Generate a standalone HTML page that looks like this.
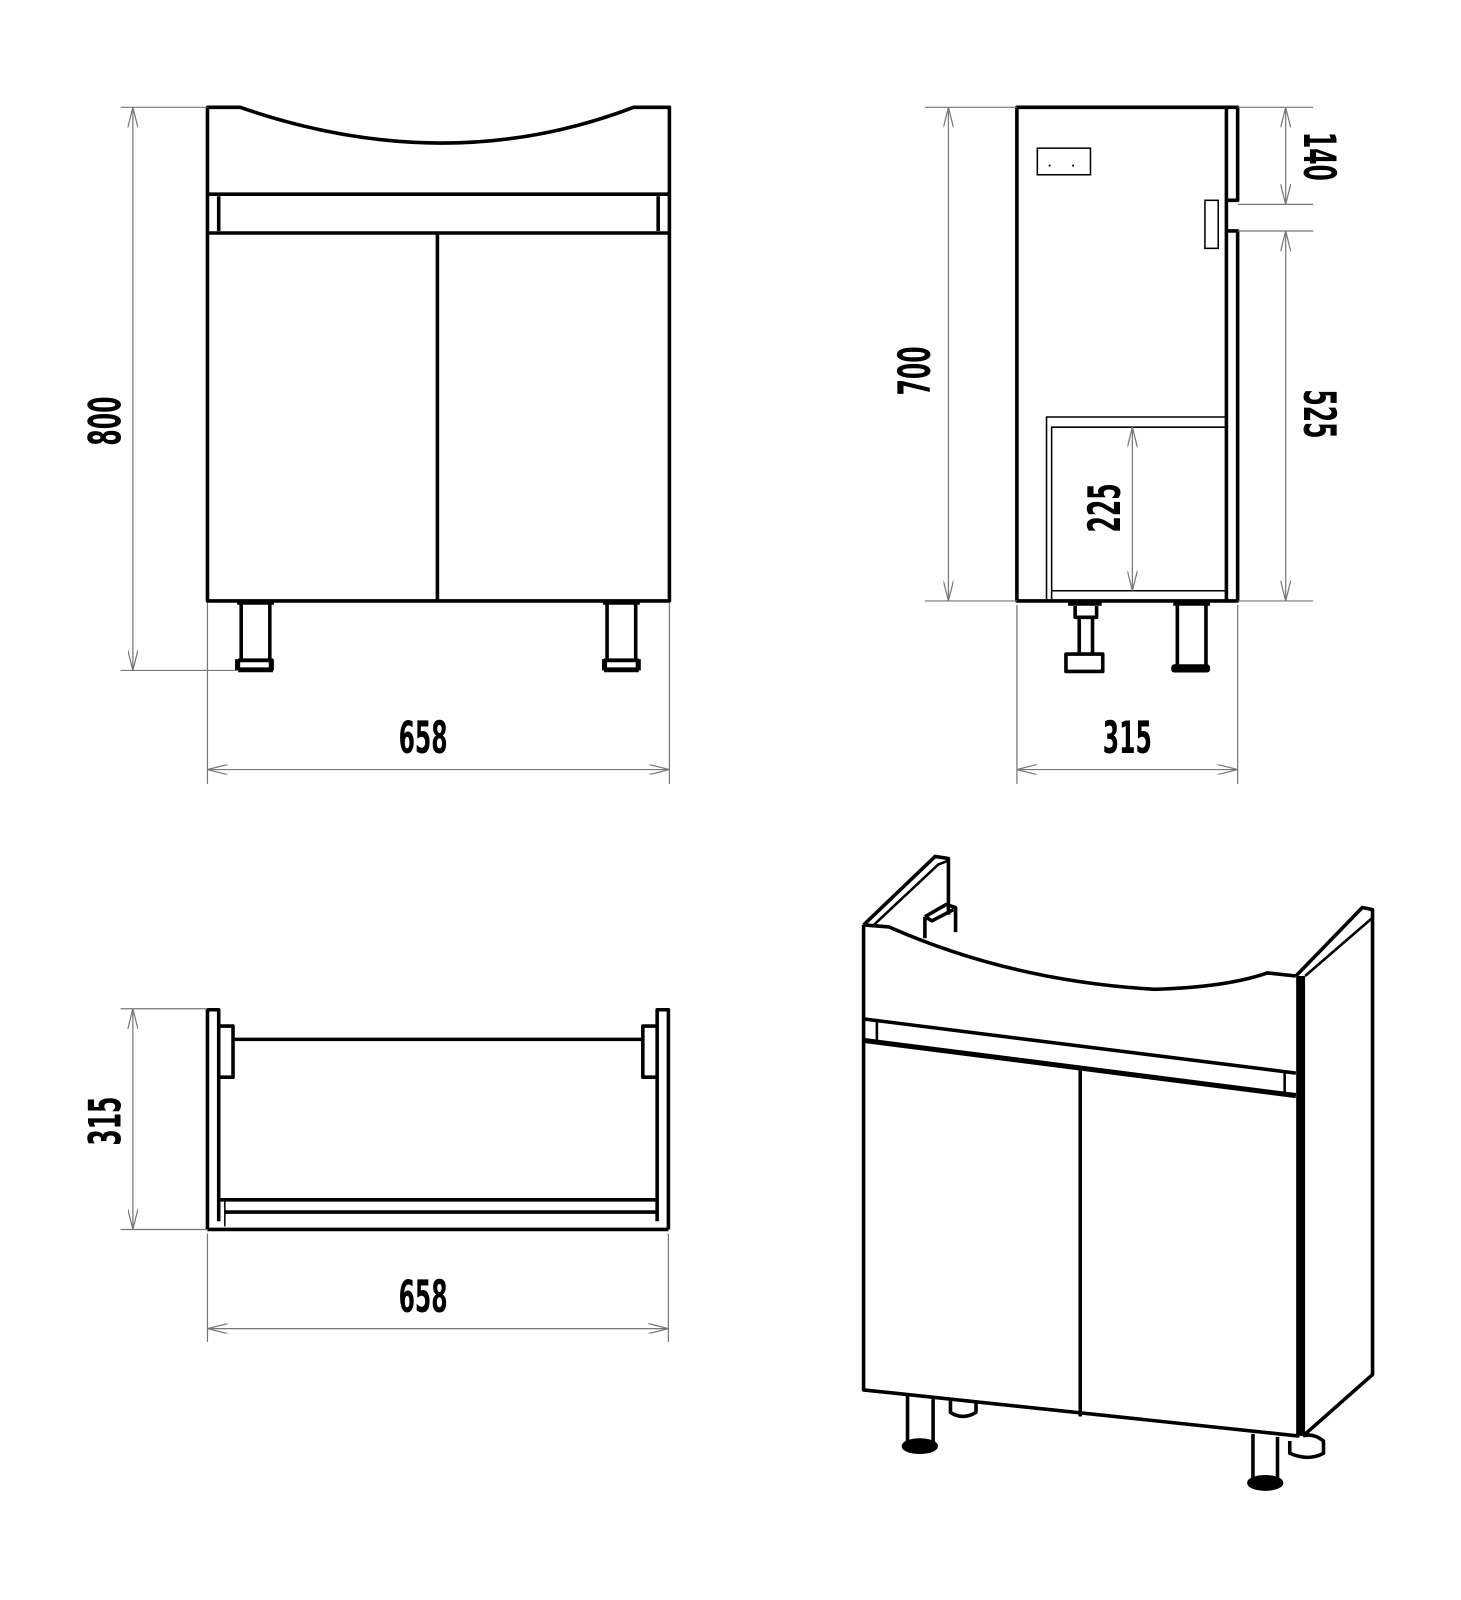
<!DOCTYPE html>
<html><head><meta charset="utf-8"><style>
html,body{margin:0;padding:0;background:#fff}
svg{display:block}
text{font-family:"Liberation Sans Narrow","DejaVu Sans Condensed","Liberation Sans",sans-serif;font-weight:bold;font-size:44px;fill:#000}
.k{stroke:#000;fill:none;stroke-width:3.5;stroke-linejoin:round}
.t{stroke:#000;fill:none;stroke-width:1.5}
.d{stroke:#777;fill:none;stroke-width:1.2}
</style></head><body>
<svg width="1461" height="1600" viewBox="0 0 1461 1600" xmlns="http://www.w3.org/2000/svg">
<defs>
<marker id="a" viewBox="0 0 20 10" refX="20" refY="5" markerWidth="20" markerHeight="10" orient="auto-start-reverse" markerUnits="userSpaceOnUse">
<path d="M0,0 L20,5 L0,10" fill="none" stroke="#777" stroke-width="1.2"/></marker>
</defs>
<g transform="scale(1.022)">
<!-- FRONT VIEW -->
<path class="k" d="M203,105 L235,105 Q437,175 620,105 L655,105 L655,588 L203,588 Z"/>
<line class="k" x1="203" y1="190" x2="655" y2="190" stroke-width="2.5"/>
<line class="k" x1="203" y1="228" x2="655" y2="228"/>
<line class="k" x1="214" y1="192" x2="214" y2="226" stroke-width="2"/>
<line class="k" x1="644" y1="192" x2="644" y2="226" stroke-width="2"/>
<line class="k" x1="428" y1="228" x2="428" y2="588"/>
<g class="k">
<path d="M232,590 L268,590 M236,590 L236,650 M264,590 L264,650 M233,656 L267,656 M233,646 L267,646"/>
<path d="M590,590 L626,590 M594,590 L594,650 M622,590 L622,650 M591,656 L625,656 M591,646 L625,646"/>
</g>
<rect x="230" y="645" width="38" height="11" fill="#000"/>
<rect x="589" y="645" width="38" height="11" fill="#000"/>
<rect x="235" y="648" width="28" height="5" fill="#fff"/>
<rect x="594" y="648" width="28" height="5" fill="#fff"/>
<!-- dims front -->
<line class="d" x1="118" y1="105" x2="203" y2="105"/>
<line class="d" x1="118" y1="656" x2="232" y2="656"/>
<line class="d" x1="130" y1="105" x2="130" y2="656" marker-start="url(#a)" marker-end="url(#a)"/>
<text transform="translate(118,412) rotate(-90)" text-anchor="middle" textLength="48" lengthAdjust="spacingAndGlyphs">800</text>
<line class="d" x1="203" y1="590" x2="203" y2="767"/>
<line class="d" x1="655" y1="590" x2="655" y2="767"/>
<line class="d" x1="203" y1="753" x2="655" y2="753" marker-start="url(#a)" marker-end="url(#a)"/>
<text x="414" y="737" text-anchor="middle" textLength="48" lengthAdjust="spacingAndGlyphs">658</text>

<!-- SIDE VIEW -->
<rect class="k" x="995" y="105" width="205" height="483"/>
<path class="k" d="M1200,105 L1211,105 L1211,196 L1200,196 M1200,226 L1211,226 L1211,588 L1200,588"/>
<rect class="t" x="1015" y="145" width="52" height="26" stroke-width="1"/>
<circle cx="1027" cy="162" r="1" fill="#000"/><circle cx="1050" cy="162" r="1" fill="#000"/>
<rect class="t" x="1179" y="196" width="13" height="47" stroke-width="1"/>
<path class="t" d="M1024,588 L1024,408 L1200,408 M1029,588 L1029,418 L1200,418 M1029,578 L1200,578" stroke-width="1.2"/>
<line class="d" x1="1108" y1="418" x2="1108" y2="578" marker-start="url(#a)" marker-end="url(#a)"/>
<text transform="translate(1096,497) rotate(-90)" text-anchor="middle" textLength="48" lengthAdjust="spacingAndGlyphs">225</text>
<g class="k">
<path d="M1045,591 L1078,591 M1052,593 L1052,604 L1073,604 L1073,593 M1056,604 L1056,640 M1069,604 L1069,640 M1043,640 L1079,640 L1079,657 L1043,657 Z"/>
<path d="M1148,591 L1184,591 M1152,591 L1152,652 M1180,591 L1180,652"/>
</g>
<rect x="1146" y="650" width="38" height="8" rx="3" fill="#000"/>
<line class="d" x1="905" y1="105" x2="995" y2="105"/>
<line class="d" x1="905" y1="588" x2="995" y2="588"/>
<line class="d" x1="928" y1="105" x2="928" y2="588" marker-start="url(#a)" marker-end="url(#a)"/>
<text transform="translate(910,363) rotate(-90)" text-anchor="middle" textLength="48" lengthAdjust="spacingAndGlyphs">700</text>
<line class="d" x1="1211" y1="105" x2="1285" y2="105"/>
<line class="d" x1="1211" y1="200" x2="1285" y2="200"/>
<line class="d" x1="1211" y1="226" x2="1285" y2="226"/>
<line class="d" x1="1211" y1="588" x2="1285" y2="588"/>
<line class="d" x1="1258" y1="105" x2="1258" y2="200" marker-start="url(#a)" marker-end="url(#a)"/>
<line class="d" x1="1258" y1="226" x2="1258" y2="588" marker-start="url(#a)" marker-end="url(#a)"/>
<text transform="translate(1276,153) rotate(90)" text-anchor="middle" textLength="48" lengthAdjust="spacingAndGlyphs">140</text>
<text transform="translate(1276,405) rotate(90)" text-anchor="middle" textLength="48" lengthAdjust="spacingAndGlyphs">525</text>
<line class="d" x1="995" y1="592" x2="995" y2="767"/>
<line class="d" x1="1211" y1="592" x2="1211" y2="767"/>
<line class="d" x1="995" y1="753" x2="1211" y2="753" marker-start="url(#a)" marker-end="url(#a)"/>
<text x="1103" y="737" text-anchor="middle" textLength="48" lengthAdjust="spacingAndGlyphs">315</text>

<!-- TOP VIEW -->
<path class="k" d="M203,1203 L203,988 L214,988 L214,1195 M654,1203 L654,988 L643,988 L643,1195"/>
<path class="k" d="M214,1004 L228,1004 L228,1054 L214,1054 M643,1004 L629,1004 L629,1054 L643,1054"/>
<line class="k" x1="228" y1="1017" x2="629" y2="1017" stroke-width="4"/>
<line class="k" x1="214" y1="1174" x2="643" y2="1174" stroke-width="3"/>
<line class="k" x1="220" y1="1186" x2="643" y2="1186" stroke-width="3"/>
<line class="k" x1="203" y1="1203" x2="654" y2="1203" stroke-width="3"/>
<line class="t" x1="220" y1="1174" x2="220" y2="1200" stroke-width="1"/>
<line class="d" x1="118" y1="987" x2="203" y2="987"/>
<line class="d" x1="118" y1="1203" x2="203" y2="1203"/>
<line class="d" x1="130" y1="987" x2="130" y2="1203" marker-start="url(#a)" marker-end="url(#a)"/>
<text transform="translate(118,1097) rotate(-90)" text-anchor="middle" textLength="48" lengthAdjust="spacingAndGlyphs">315</text>
<line class="d" x1="203" y1="1207" x2="203" y2="1313"/>
<line class="d" x1="654" y1="1207" x2="654" y2="1313"/>
<line class="d" x1="203" y1="1300" x2="654" y2="1300" marker-start="url(#a)" marker-end="url(#a)"/>
<text x="414" y="1284" text-anchor="middle" textLength="48" lengthAdjust="spacingAndGlyphs">658</text>

<!-- ISOMETRIC -->
<g class="k">
<path d="M845,905 L915,838 L928,840 L928,895"/>
<path d="M855,905 L918,846 L928,842" stroke-width="2.5"/>
<path d="M905,897 L905,918 M905,897 L926,885 L935,888 L935,912 M905,897 L912,901 L933,890"/>
<path d="M845,905 L870,907 Q990,960 1130,968 Q1200,966 1240,952 L1268,955"/>
<path d="M845,905 L845,1360 L1270,1405 L1270,955"/>
<path d="M845,997 L1268,1050"/>
<path d="M845,1018 L1268,1072" stroke-width="5"/>
<path d="M858,998 L858,1018 M1257,1050 L1257,1070" stroke-width="2.5"/>
<path d="M1057,1045 L1057,1386"/>
<path d="M1268,955 L1333,888 L1343,890 L1343,1345 L1275,1405"/>
<path d="M1277,955 L1343,898" stroke-width="2.5"/>
<path d="M1274,955 L1274,1405" stroke-width="6"/>
<path d="M888,1366 L888,1412 M913,1369 L913,1412"/>
<ellipse cx="900" cy="1415" rx="16" ry="6" fill="#000"/>
<path d="M930,1370 L930,1382 Q942,1390 955,1382 L955,1372"/>
<path d="M1226,1403 L1226,1448 M1250,1406 L1250,1448"/>
<ellipse cx="1238" cy="1451" rx="16" ry="6" fill="#000"/>
<path d="M1262,1410 L1262,1422 Q1280,1430 1295,1422 L1295,1410 Q1285,1402 1275,1405"/>
</g>
</g>
</svg>
</body></html>
